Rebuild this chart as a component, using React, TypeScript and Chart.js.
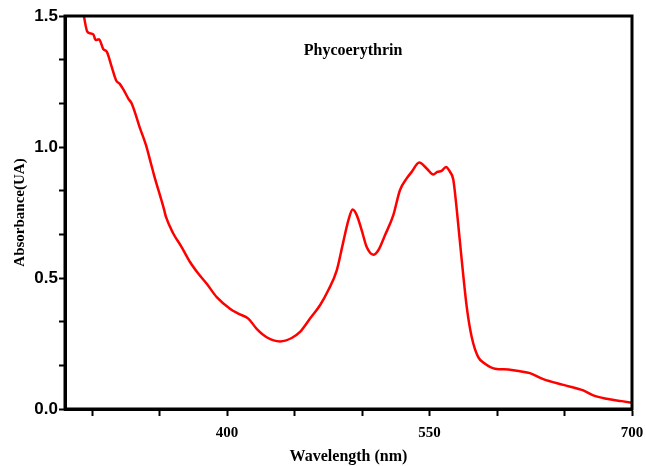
import React, { useEffect, useRef } from "react";
import { Chart, registerables } from "chart.js";

Chart.register(...registerables);

const wavelengths = [
  293, 296.5, 298.5, 301, 302.7, 305.2, 308.4, 310.9, 314.6, 317.8, 320.7, 323.2, 326.9, 329.4,
  335.6, 340, 343, 346, 353.3, 354.8, 360.2, 366.4, 372.6, 378.7, 385, 392.4, 402.2, 408.4,
  415.8, 422, 429.4, 439.3, 447.9, 454.1, 461.5, 468.9, 475, 481.3, 486.1, 489.9, 493.1, 496.1,
  499.8, 503.5, 508.4, 512.1, 517, 523.2, 528.1, 533.1, 536.8, 542.4, 547.9, 552.8, 555.8, 559,
  562.2, 565.2, 567.6, 570.1, 573.9, 577.6, 581.3, 586.1, 591.1, 598.5, 608.4, 617, 624.4, 634.3,
  649.1, 663.9, 671.3, 681.3, 692.4, 699.8,
];
const absorbance = [
  1.53, 1.44, 1.434, 1.43, 1.408, 1.411, 1.373, 1.364, 1.306, 1.255, 1.24, 1.22, 1.185, 1.166,
  1.071, 1.007, 0.95, 0.892, 0.763, 0.733, 0.67, 0.618, 0.561, 0.517, 0.478, 0.427, 0.383, 0.364,
  0.345, 0.306, 0.274, 0.258, 0.271, 0.294, 0.345, 0.396, 0.453, 0.529, 0.637, 0.72, 0.761, 0.74,
  0.682, 0.618, 0.589, 0.606, 0.663, 0.74, 0.835, 0.88, 0.905, 0.941, 0.918, 0.895, 0.905, 0.909,
  0.924, 0.905, 0.876, 0.766, 0.567, 0.389, 0.274, 0.198, 0.173, 0.154, 0.151, 0.144, 0.137, 0.114,
  0.092, 0.071, 0.052, 0.039, 0.03, 0.024,
];

const xTickValues = [300, 350, 400, 450, 500, 550, 600, 650, 700];
const xTickLabels = ["", "", "400", "", "", "550", "", "", "700"];
const yTickValues = [0, 1 / 6, 2 / 6, 0.5, 4 / 6, 5 / 6, 1, 7 / 6, 8 / 6, 1.5];
const yTickLabels = ["0.0", "", "", "0.5", "", "", "1.0", "", "", "1.5"];

const chartTitle = "Phycoerythrin";
const xTitle = "Wavelength (nm)";
const yTitle = "Absorbance(UA)";

const framePlugin = {
  id: "frame",
  afterDatasetsDraw(chart: any) {
    const { ctx, chartArea } = chart;
    const { left, top, right, bottom } = chartArea;
    ctx.save();
    ctx.strokeStyle = "#000";
    ctx.lineWidth = 3;
    ctx.beginPath();
    ctx.moveTo(left, bottom);
    ctx.lineTo(left, top);
    ctx.lineTo(right, top);
    ctx.lineTo(right, bottom);
    ctx.lineTo(left, bottom);
    ctx.closePath();
    ctx.stroke();
    ctx.fillStyle = "#000";
    ctx.font = "bold 16px 'Liberation Serif', serif";
    ctx.textAlign = "center";
    ctx.textBaseline = "middle";
    const w = right - left;
    const h = bottom - top;
    ctx.fillText(chartTitle, left + w * 0.508, top + h * 0.089);
    ctx.restore();
  },
};

export default function App() {
  const canvasRef = useRef<HTMLCanvasElement | null>(null);

  useEffect(() => {
    if (!canvasRef.current) return;
    const chart = new Chart(canvasRef.current, {
      type: "line",
      data: {
        datasets: [
          {
            data: wavelengths.map((x, i) => ({ x, y: absorbance[i] })),
            borderColor: "#ff0000",
            borderWidth: 2.5,
            pointRadius: 0,
            fill: false,
            tension: 0.3,
            cubicInterpolationMode: "monotone",
          },
        ],
      },
      options: {
        responsive: false,
        animation: false,
        layout: { padding: { left: 0, top: 16, right: 14, bottom: 0 } },
        plugins: {
          legend: { display: false },
          tooltip: { enabled: false },
        },
        scales: {
          x: {
            type: "linear",
            min: 280,
            max: 700,
            afterFit: (s: any) => {
              s.height = 57;
              s.paddingLeft = 0;
              s.paddingRight = 0;
            },
            afterBuildTicks: (s: any) => {
              s.ticks = xTickValues.map((v) => ({ value: v }));
            },
            grid: {
              drawOnChartArea: false,
              drawTicks: true,
              tickLength: 7,
              tickWidth: 2,
              tickColor: "#000",
            },
            border: { display: true, color: "#000", width: 3 },
            ticks: {
              autoSkip: false,
              maxRotation: 0,
              padding: 8,
              color: "#000",
              font: { family: "'Liberation Serif', serif", size: 15, weight: "bold" },
              callback: (v: any) => {
                const i = xTickValues.indexOf(Number(v));
                return i >= 0 ? xTickLabels[i] : "";
              },
            },
            title: {
              display: true,
              text: xTitle,
              color: "#000",
              padding: { top: 0, bottom: 0 },
              font: { family: "'Liberation Serif', serif", size: 16, weight: "bold" },
            },
          },
          y: {
            type: "linear",
            min: 0,
            max: 1.5,
            afterFit: (s: any) => {
              s.width = 65;
              s.paddingTop = 0;
              s.paddingBottom = 0;
            },
            afterBuildTicks: (s: any) => {
              s.ticks = yTickValues.map((v) => ({ value: v }));
            },
            grid: {
              drawOnChartArea: false,
              drawTicks: true,
              tickLength: 6,
              tickWidth: 2,
              tickColor: "#000",
            },
            border: { display: true, color: "#000", width: 3 },
            ticks: {
              autoSkip: false,
              padding: 1,
              color: "#000",
              font: { family: "'Liberation Sans', sans-serif", size: 17, weight: "bold" },
              callback: (v: any) => {
                const i = yTickValues.findIndex((t) => Math.abs(t - Number(v)) < 1e-6);
                return i >= 0 ? yTickLabels[i] : "";
              },
            },
            title: {
              display: true,
              text: yTitle,
              color: "#000",
              padding: { top: 11, bottom: 0 },
              font: { family: "'Liberation Serif', serif", size: 15, weight: "bold" },
            },
          },
        },
      },
      plugins: [framePlugin],
    } as any);
    return () => chart.destroy();
  }, []);

  return (
    <div style={{ position: "absolute", left: 0, top: 0, width: 646, height: 466, background: "#fff" }}>
      <canvas ref={canvasRef} width={646} height={466} />
    </div>
  );
}
